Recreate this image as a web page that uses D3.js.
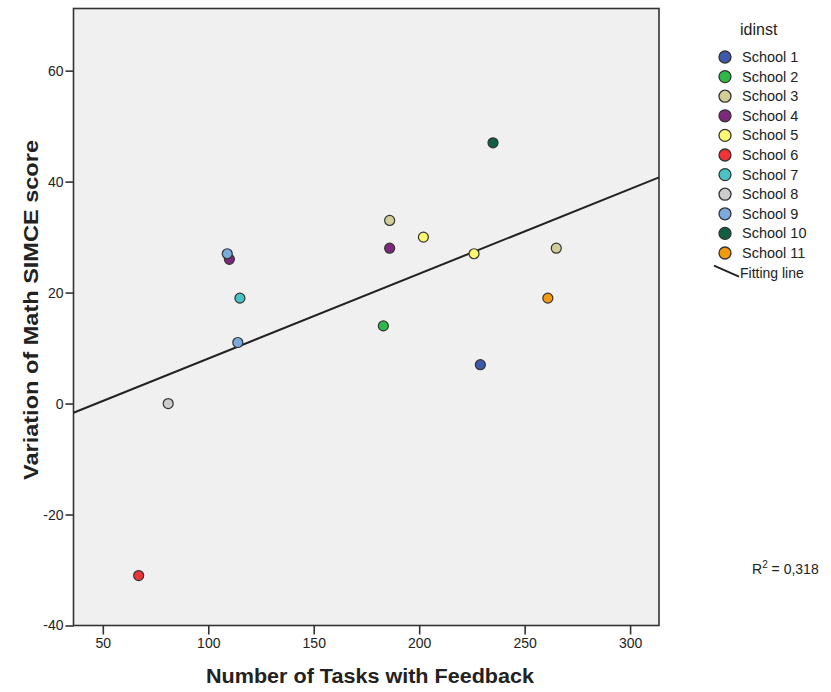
<!DOCTYPE html>
<html>
<head>
<meta charset="utf-8">
<script src="https://cdn.jsdelivr.net/npm/d3@7"></script>
<style>
  body { margin: 0; background: #fff; }
  text { font-family: "Liberation Sans", Arial, sans-serif; fill: #222; }
</style>
</head>
<body>
<div id="cht"></div>
<script>
const schools = ["School 1", "School 2", "School 3", "School 4", "School 5", "School 6",
  "School 7", "School 8", "School 9", "School 10", "School 11"];
const schoolColors = ["#3e58ac", "#2eb848", "#d3ce97", "#7c287d", "#fbf873", "#ef3338",
  "#48c2c5", "#cccccc", "#7baadc", "#115e41", "#f2990d"];

// one entry per point: school, tasks with feedback, SIMCE variation
const pointSchool = ["School 1", "School 2", "School 3", "School 3", "School 4", "School 4",
  "School 5", "School 5", "School 6", "School 7", "School 8", "School 9", "School 9",
  "School 10", "School 11"];
const pointTasks = [229, 183, 186, 265, 186, 110, 202, 226, 67, 115, 81, 109, 114, 235, 261];
const pointScore = [7, 14, 33, 28, 28, 26, 30, 27, -31, 19, 0, 27, 11, 47, 19];

const xTicks = [50, 100, 150, 200, 250, 300];
const yTicks = [-40, -20, 0, 20, 40, 60];
const r2Label = "0,318";

const W = 831, H = 692;
const plot = { left: 73.5, right: 659, top: 8.5, bottom: 625.5 };

const svg = d3.select("#cht").append("svg")
  .attr("width", W).attr("height", H)
  .attr("viewBox", `0 0 ${W} ${H}`);

const x = d3.scaleLinear().domain([36.1, 313.7]).range([plot.left, plot.right]);
const y = d3.scaleLinear().domain([-40, 71.2]).range([plot.bottom, plot.top]);

// plot background
svg.append("rect")
  .attr("x", plot.left).attr("y", plot.top)
  .attr("width", plot.right - plot.left).attr("height", plot.bottom - plot.top)
  .attr("fill", "#f0f0f0")
  .attr("stroke", "#333").attr("stroke-width", 1.6);

// axes (plain hyphen for negatives, like the original)
const fmt = (d) => String(d);
const xAxis = svg.append("g")
  .attr("transform", `translate(0,${plot.bottom})`)
  .call(d3.axisBottom(x).tickValues(xTicks).tickFormat(fmt)
    .tickSize(9).tickSizeOuter(0).tickPadding(4));
const yAxis = svg.append("g")
  .attr("transform", `translate(${plot.left},0)`)
  .call(d3.axisLeft(y).tickValues(yTicks).tickFormat(fmt)
    .tickSize(8).tickSizeOuter(0).tickPadding(2));

[xAxis, yAxis].forEach(function (g) {
  g.select(".domain").remove();
  g.selectAll(".tick line").attr("stroke", "#333").attr("stroke-width", 1.6);
  g.selectAll(".tick text")
    .attr("font-family", "'Liberation Sans', Arial, sans-serif")
    .attr("font-size", 14).attr("fill", "#333");
});

// axis titles
svg.append("text")
  .attr("x", 370).attr("y", 683)
  .attr("text-anchor", "middle")
  .attr("textLength", 328).attr("lengthAdjust", "spacingAndGlyphs")
  .style("font-weight", "bold").style("font-size", "20px")
  .text("Number of Tasks with Feedback");

svg.append("text")
  .attr("transform", "translate(38,310) rotate(-90)")
  .attr("text-anchor", "middle")
  .attr("textLength", 340).attr("lengthAdjust", "spacingAndGlyphs")
  .style("font-weight", "bold").style("font-size", "20px")
  .text("Variation of Math SIMCE score");

// fitting line from least squares on the points
const mx = d3.mean(pointTasks), my = d3.mean(pointScore);
const sxy = d3.sum(pointTasks, (v, i) => (v - mx) * (pointScore[i] - my));
const sxx = d3.sum(pointTasks, (v) => (v - mx) * (v - mx));
const slope = sxy / sxx, icpt = my - slope * mx;
const xd = x.domain();

svg.append("line")
  .attr("x1", x(xd[0])).attr("y1", y(icpt + slope * xd[0]))
  .attr("x2", x(xd[1])).attr("y2", y(icpt + slope * xd[1]))
  .attr("stroke", "#222").attr("stroke-width", 2);

// points
const color = d3.scaleOrdinal().domain(schools).range(schoolColors);
const pts = pointTasks.map((t, i) => ({ s: pointSchool[i], t: t, v: pointScore[i] }));

svg.append("g")
  .selectAll("circle")
  .data(pts)
  .enter()
  .append("circle")
  .attr("cx", (d) => x(d.t))
  .attr("cy", (d) => y(d.v))
  .attr("r", 5)
  .attr("fill", (d) => color(d.s))
  .attr("stroke", "#333").attr("stroke-width", 1.2);

// legend
const lg = svg.append("g").attr("transform", "translate(725,0)");
lg.append("text")
  .attr("x", 15).attr("y", 35)
  .style("font-size", "16px")
  .text("idinst");

const item = lg.selectAll(".item")
  .data(schools)
  .enter()
  .append("g")
  .attr("class", "item")
  .attr("transform", (d, i) => `translate(0,${57 + i * 19.6})`);

item.append("circle")
  .attr("r", 6)
  .attr("fill", (d) => color(d))
  .attr("stroke", "#333").attr("stroke-width", 1.3);

item.append("text")
  .attr("x", 17).attr("y", 5)
  .style("font-size", "14.5px")
  .text((d) => d);

const fy = 57 + schools.length * 19.6;
lg.append("line")
  .attr("x1", -11).attr("y1", fy - 7)
  .attr("x2", 14).attr("y2", fy + 4)
  .attr("stroke", "#222").attr("stroke-width", 1.8);
lg.append("text")
  .attr("x", 15).attr("y", fy + 5)
  .style("font-size", "14px")
  .text("Fitting line");

// R squared
const r2 = svg.append("text").attr("x", 752).attr("y", 574).style("font-size", "14px");
r2.append("tspan").text("R");
r2.append("tspan").attr("dy", -6).style("font-size", "10px").text("2");
r2.append("tspan").attr("dy", 6).text(" = " + r2Label);
</script>
</body>
</html>
